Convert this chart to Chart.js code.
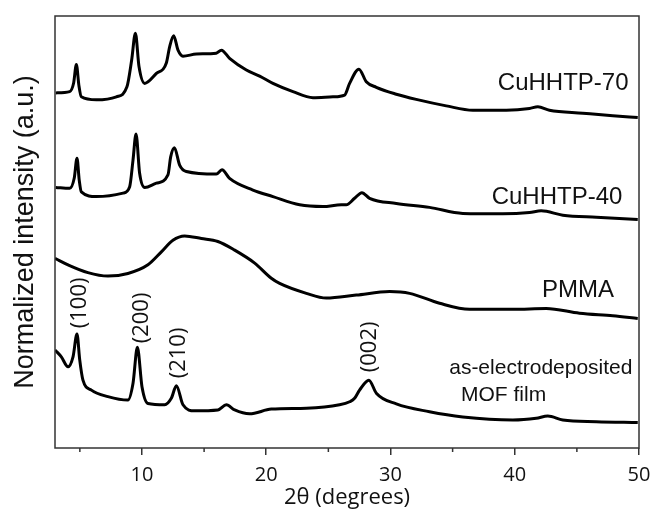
<!DOCTYPE html>
<html lang="en">
<head>
  <meta charset="UTF-8">
  <title>XRD patterns</title>
  <script src="https://cdn.jsdelivr.net/npm/chart.js"></script>
  <style>
    html, body { margin: 0; padding: 0; background: #fff; }
    canvas { display: block; }
  </style>
</head>
<body>
  <canvas id="xrd" width="651" height="510"></canvas>

  <script>
    // 2theta (deg) / normalized intensity (a.u., curves stacked with offsets)
    const cu70X = [3.06, 4.18, 4.5, 4.72, 4.92, 5.12, 6.33, 7.94, 8.79, 9.17, 9.47, 9.76, 10.22, 11.16, 11.96, 12.23, 12.55, 12.9, 13.3, 14.38, 15.98, 16.39, 17.05, 18.4, 19.47, 20.54, 22.15, 23.76, 25.37, 26.31, 26.71, 27.46, 28.05, 28.86, 30.47, 32.07, 34.49, 36.63, 39.32, 41.19, 41.86, 42.79, 45.48, 47.89, 49.9];
    const cu70Y = [82.2, 82.5, 84.5, 88.8, 84.0, 81.3, 80.6, 81.3, 83.6, 89.8, 96.0, 88.3, 84.4, 86.7, 89.1, 92.9, 95.4, 92.1, 90.7, 91.2, 91.4, 92.1, 90.2, 87.5, 86.1, 84.4, 82.5, 81.1, 81.3, 81.7, 84.4, 87.7, 84.8, 83.5, 81.9, 80.7, 79.2, 78.2, 78.2, 78.6, 79.0, 78.2, 77.5, 76.9, 76.5];

    const cu40X = [3.06, 4.18, 4.55, 4.77, 4.95, 5.12, 6.33, 8.47, 9.01, 9.28, 9.52, 9.81, 10.22, 11.16, 12.09, 12.31, 12.61, 13.03, 13.57, 15.98, 16.44, 17.05, 18.93, 20.54, 22.69, 24.56, 26.04, 26.44, 27.11, 27.7, 28.32, 30.47, 33.14, 35.82, 39.04, 41.19, 42.13, 43.87, 46.56, 49.9];
    const cu40Y = [60.3, 60.1, 62.5, 67.1, 62.0, 59.3, 58.2, 59.0, 60.5, 66.7, 72.7, 63.6, 60.3, 61.3, 63.2, 67.4, 69.5, 65.5, 64.0, 63.4, 64.4, 62.4, 59.7, 58.2, 56.3, 55.9, 56.3, 56.3, 57.8, 59.1, 57.8, 56.6, 55.7, 54.3, 54.2, 54.5, 54.9, 53.9, 53.4, 52.9];

    const pmmaX = [3.0, 4.05, 5.65, 7.26, 8.87, 10.48, 11.56, 12.49, 13.43, 14.78, 16.11, 17.46, 19.07, 20.41, 21.08, 23.23, 24.83, 27.25, 29.93, 31.54, 33.95, 36.36, 39.85, 42.53, 45.21, 47.89, 49.9];
    const pmmaY = [43.9, 42.4, 40.6, 39.8, 40.4, 42.4, 45.4, 48.1, 49.1, 48.5, 47.8, 45.8, 42.8, 39.3, 38.1, 35.8, 34.7, 35.4, 36.2, 35.8, 33.5, 32.1, 32.1, 32.3, 31.2, 30.6, 30.0];

    const mofX = [3.0, 3.51, 4.05, 4.45, 4.77, 4.99, 5.25, 5.93, 7.26, 8.87, 9.28, 9.63, 10.0, 10.48, 11.83, 12.36, 12.77, 13.3, 14.24, 16.11, 16.79, 17.46, 18.66, 20.41, 23.23, 25.9, 26.71, 27.11, 27.51, 28.26, 28.86, 30.47, 33.14, 35.82, 39.85, 41.73, 42.66, 43.87, 46.56, 49.9];
    const mofY = [22.7, 21.1, 18.8, 21.1, 26.4, 20.4, 15.7, 13.4, 11.9, 11.1, 15.0, 23.3, 14.2, 10.3, 10.0, 11.5, 14.4, 10.0, 8.6, 8.8, 10.0, 8.8, 7.9, 9.0, 9.2, 10.0, 10.7, 11.5, 13.4, 15.7, 12.7, 10.2, 8.4, 7.2, 6.5, 6.9, 7.4, 6.5, 6.1, 5.9];

    const xTicks = [10, 20, 30, 40, 50];
    const xMinorTicks = [5, 15, 25, 35, 45];

    const sampleLabels = ['CuHHTP-70', 'CuHHTP-40', 'PMMA'];
    const sampleLabelX = [43.9, 43.4, 45.1];
    const sampleLabelY = [84.5, 58.1, 36.6];

    const filmLabels = ['as-electrodeposited', 'MOF film'];
    const filmLabelX = [42.1, 39.1];
    const filmLabelY = [18.5, 12.3];

    const peakLabels = ['(100)', '(200)', '(210)', '(002)'];
    const peakLabelX = [5.0, 10.0, 12.95, 28.3];
    const peakLabelY = [33.6, 30.1, 22.0, 23.4];

    const toPoints = (xs, ys) => xs.map((x, i) => ({ x: x, y: ys[i] }));

    const series = [
      { label: 'CuHHTP-70', data: toPoints(cu70X, cu70Y) },
      { label: 'CuHHTP-40', data: toPoints(cu40X, cu40Y) },
      { label: 'PMMA', data: toPoints(pmmaX, pmmaY) },
      { label: 'as-electrodeposited MOF film', data: toPoints(mofX, mofY) }
    ];

    // frame, minor ticks and text labels
    const decorations = {
      id: 'decorations',
      afterDraw(chart) {
        const ctx = chart.ctx;
        const area = chart.chartArea;
        const xs = chart.scales.x;
        const ys = chart.scales.y;
        ctx.save();

        ctx.strokeStyle = '#333';
        ctx.lineWidth = 1.5;
        ctx.strokeRect(area.left, area.top, area.right - area.left, area.bottom - area.top);

        ctx.beginPath();
        xMinorTicks.forEach(v => {
          const px = xs.getPixelForValue(v);
          ctx.moveTo(px, area.bottom);
          ctx.lineTo(px, area.bottom + 4);
        });
        ctx.stroke();

        ctx.fillStyle = '#111';
        ctx.textAlign = 'center';
        ctx.textBaseline = 'middle';
        ctx.font = '24px "Liberation Sans", Arial, sans-serif';
        sampleLabels.forEach((t, i) => {
          ctx.fillText(t, xs.getPixelForValue(sampleLabelX[i]), ys.getPixelForValue(sampleLabelY[i]));
        });

        ctx.font = '21px "Liberation Sans", Arial, sans-serif';
        filmLabels.forEach((t, i) => {
          ctx.fillText(t, xs.getPixelForValue(filmLabelX[i]), ys.getPixelForValue(filmLabelY[i]));
        });

        ctx.font = '22px "Open Sans", sans-serif';
        peakLabels.forEach((t, i) => {
          ctx.save();
          ctx.translate(xs.getPixelForValue(peakLabelX[i]), ys.getPixelForValue(peakLabelY[i]));
          ctx.rotate(-Math.PI / 2);
          ctx.fillText(t, 0, 0);
          ctx.restore();
        });
        ctx.restore();
      }
    };

    new Chart(document.getElementById('xrd'), {
      type: 'line',
      data: {
        datasets: series.map(s => ({
          label: s.label,
          data: s.data,
          borderColor: '#000',
          borderWidth: 3,
          pointRadius: 0,
          fill: false,
          cubicInterpolationMode: 'monotone'
        }))
      },
      options: {
        responsive: false,
        animation: false,
        layout: { padding: { left: 0, top: 16, right: 12, bottom: 0 } },
        plugins: { legend: { display: false }, tooltip: { enabled: false } },
        scales: {
          x: {
            type: 'linear',
            min: 3,
            max: 50,
            afterFit: s => { s.height = 62; s.paddingLeft = 0; s.paddingRight = 0; },
            afterBuildTicks: s => { s.ticks = xTicks.map(v => ({ value: v })); },
            border: { display: false },
            grid: { drawOnChartArea: false, drawTicks: true, tickLength: 7, tickColor: '#333', lineWidth: 1.5 },
            ticks: {
              color: '#111',
              padding: 8,
              maxRotation: 0,
              font: { family: '"Open Sans", sans-serif', size: 20 }
            },
            title: {
              display: true,
              text: '2θ (degrees)',
              color: '#111',
              padding: { top: 0, bottom: 0 },
              font: { family: '"Open Sans", sans-serif', size: 22, lineHeight: 1.1 }
            }
          },
          y: {
            min: 0,
            max: 100,
            afterFit: s => { s.width = 55; s.paddingTop = 0; s.paddingBottom = 0; },
            border: { display: false },
            grid: { display: false },
            ticks: { display: false },
            title: {
              display: true,
              text: 'Normalized intensity (a.u.)',
              color: '#111',
              padding: { top: 9, bottom: 0 },
              font: { family: '"Liberation Sans", Arial, sans-serif', size: 27 }
            }
          }
        }
      },
      plugins: [decorations]
    });
  </script>
</body>
</html>
